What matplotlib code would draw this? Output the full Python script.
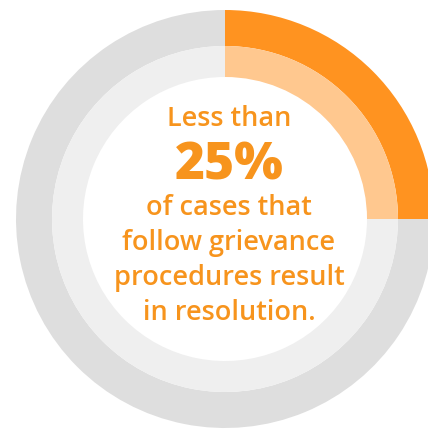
import matplotlib
matplotlib.use("Agg")
import matplotlib.pyplot as plt

# Data
share_values = [25, 75]          # percent: resolved vs. other
outer_colors = ["#FF9320", "#DEDEDE"]
inner_colors = ["#FFC88F", "#EFEFEF"]
text_lines = ["Less than", "25%", "of cases that", "follow grievance",
              "procedures result", "in resolution."]

W, H = 428, 429
fig = plt.figure(figsize=(W / 100, H / 100), dpi=100)
ax = fig.add_axes([0, 0, 1, 1])

cx, cy = 225, H - 219
R_out, R_mid, R_in = 209, 173, 142

ax.pie(share_values, colors=outer_colors, startangle=90, counterclock=False,
       radius=R_out, center=(cx, cy),
       wedgeprops=dict(width=R_out - R_mid, linewidth=0))
ax.pie(share_values, colors=inner_colors, startangle=90, counterclock=False,
       radius=R_mid, center=(cx, cy),
       wedgeprops=dict(width=R_mid - R_in, linewidth=0))

ax.set_xlim(0, W)
ax.set_ylim(0, H)
ax.set_aspect("equal")
ax.axis("off")

orange = "#F7941D"
tx = 229
fam = ["Open Sans", "DejaVu Sans"]
baselines = [126, 180, 215, 250, 285, 320]
for line, b in zip(text_lines, baselines):
    if line == "25%":
        ax.text(tx, H - b, line, ha="center", va="baseline", fontsize=37,
                fontweight="heavy", color=orange, family=fam)
    else:
        ax.text(tx, H - b, line, ha="center", va="baseline", fontsize=19.5,
                fontweight="semibold", color=orange, family=fam)

fig.savefig("out.png", dpi=100)
